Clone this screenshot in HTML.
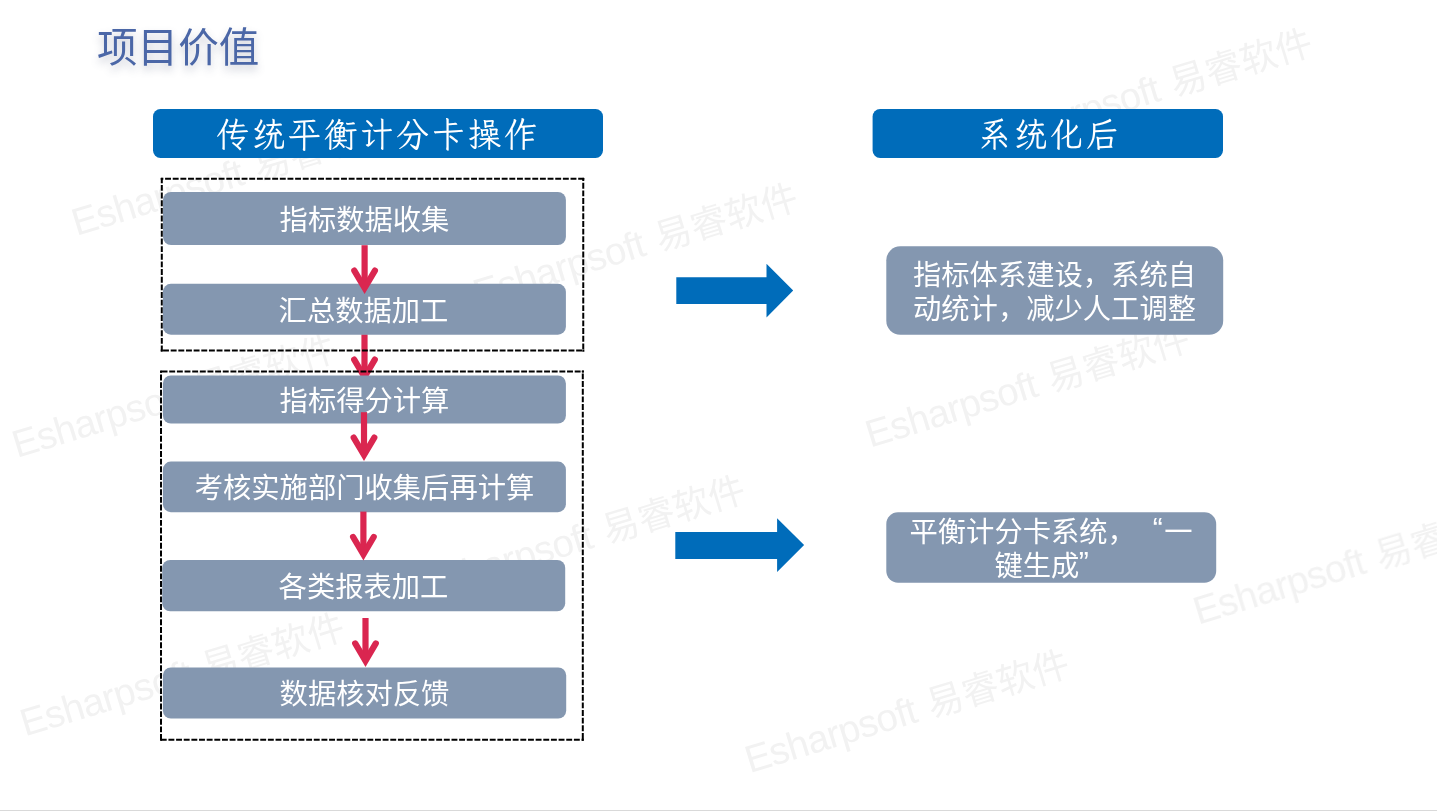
<!DOCTYPE html>
<html lang="zh-CN">
<head>
<meta charset="utf-8">
<title>项目价值</title>
<style>
*{box-sizing:border-box;margin:0;padding:0}
html,body{width:1437px;height:811px;overflow:hidden;background:#fff}
body{position:relative;font-family:"Liberation Sans","Noto Sans CJK SC",sans-serif}
svg{position:absolute;left:0;top:0;overflow:visible}
.wm{will-change:transform}
.wm text{font-family:"Liberation Sans","Noto Sans CJK SC",sans-serif;font-size:36.8px;fill:#f2f2f2}
.wm .la{font-size:38.5px;letter-spacing:-0.7px}
.title{position:absolute;left:96.5px;top:19px;font-size:40.6px;line-height:58px;color:#4b67a7;text-shadow:0 5px 9px rgba(80,90,120,.32);white-space:nowrap}
.hd{position:absolute;top:109px;height:49px;color:#fff;text-align:center;font-family:"Liberation Serif","LXGW WenKai TC","Noto Serif CJK SC",serif;font-size:33px;line-height:53px;letter-spacing:3px;white-space:nowrap;transform:scaleY(1.07);transform-origin:50% 27px}
.t{position:absolute;left:163px;width:403px;color:#fff;text-align:center;font-size:28.3px;line-height:40px;height:40px;white-space:nowrap}
.r{position:absolute;color:#fff;text-align:center;font-size:28.3px;line-height:34px;white-space:nowrap}
.title,.hd,.t,.r{will-change:transform}
.q{display:inline-block;width:28.3px}
.q{position:relative;top:-4px;font-size:30px;line-height:1px}
.ql{text-align:right;left:-1.5px}
.qr{text-align:left;left:-0.5px}
</style>
</head>
<body>
<!-- watermark layer -->
<svg class="wm" width="1437" height="811" viewBox="0 0 1437 811">
  <g id="wms">
  <text transform="translate(76.5 235.9) rotate(-17)"><tspan class="la">Esharpsoft</tspan><tspan dx="2.5"> 易睿软件</tspan></text>
  <text transform="translate(478.1 306.8) rotate(-17)"><tspan class="la">Esharpsoft</tspan><tspan dx="2.5"> 易睿软件</tspan></text>
  <text transform="translate(992.8 152.1) rotate(-17)"><tspan class="la">Esharpsoft</tspan><tspan dx="2.5"> 易睿软件</tspan></text>
  <text transform="translate(17 458) rotate(-17)"><tspan class="la">Esharpsoft</tspan><tspan dx="2.5"> 易睿软件</tspan></text>
  <text transform="translate(870.3 447.7) rotate(-17)"><tspan class="la">Esharpsoft</tspan><tspan dx="2.5"> 易睿软件</tspan></text>
  <text transform="translate(425.6 599.1) rotate(-17)"><tspan class="la">Esharpsoft</tspan><tspan dx="2.5"> 易睿软件</tspan></text>
  <text transform="translate(1198.3 624.8) rotate(-17)"><tspan class="la">Esharpsoft</tspan><tspan dx="2.5"> 易睿软件</tspan></text>
  <text transform="translate(25 736.6) rotate(-17)"><tspan class="la">Esharpsoft</tspan><tspan dx="2.5"> 易睿软件</tspan></text>
  <text transform="translate(749.7 773.3) rotate(-17)"><tspan class="la">Esharpsoft</tspan><tspan dx="2.5"> 易睿软件</tspan></text>
  </g>
</svg>

<div class="title">项目价值</div>

<!-- shapes -->
<svg width="1437" height="811" viewBox="0 0 1437 811">
  <!-- header bars -->
  <rect x="153" y="109" width="450" height="49" rx="7.5" fill="#006cba"/>
  <rect x="872.6" y="109" width="350.4" height="49" rx="7.5" fill="#006cba"/>
  <!-- arrow 2 (beneath dashed frames and box 3) -->
  <g transform="translate(364.5 359.6)" fill="none" stroke="#da2650" stroke-width="6.2"><path d="M0 -25.4V17" stroke-linecap="butt"/><path d="M-10.3 0L0 17.4L10.3 0" stroke-linecap="round" stroke-linejoin="miter" stroke-miterlimit="10"/></g>
  <!-- dashed frames -->
  <g fill="none" stroke="#000" stroke-width="2" stroke-dasharray="5.9 1.75">
    <path d="M160.85 178.84H584.20" stroke-dashoffset="3.41"/>
    <path d="M160.85 350.5H584.20" stroke-dashoffset="5.45"/>
    <path d="M161.8 177.89V351.45" stroke-dashoffset="0.58"/>
    <path d="M583.25 177.89V351.45" stroke-dashoffset="2.79"/>
    <rect x="160.85" y="177.89" width="1.9" height="1.9" fill="#000" stroke="none"/>
    <rect x="582.30" y="177.89" width="1.9" height="1.9" fill="#000" stroke="none"/>
    <rect x="160.85" y="349.55" width="1.9" height="1.9" fill="#000" stroke="none"/>
    <rect x="582.30" y="349.55" width="1.9" height="1.9" fill="#000" stroke="none"/>
    <path d="M160.05 371.6H583.75" stroke-dashoffset="6.1"/>
    <path d="M160.05 739.85H583.75" stroke-dashoffset="6.91"/>
    <path d="M161.0 370.65V740.80" stroke-dashoffset="3.77"/>
    <path d="M582.8 370.65V740.80" stroke-dashoffset="4.85"/>
    <rect x="160.05" y="370.65" width="1.9" height="1.9" fill="#000" stroke="none"/>
    <rect x="581.85" y="370.65" width="1.9" height="1.9" fill="#000" stroke="none"/>
    <rect x="160.05" y="738.90" width="1.9" height="1.9" fill="#000" stroke="none"/>
    <rect x="581.85" y="738.90" width="1.9" height="1.9" fill="#000" stroke="none"/>
  </g>
  <!-- grey boxes -->
  <g fill="#8497b0">
    <rect x="163" y="191.9" width="402.9" height="53.2" rx="8"/>
    <rect x="162.9" y="283.8" width="403" height="50.9" rx="8"/>
    <rect x="162.9" y="375.4" width="403" height="48.2" rx="8"/>
    <rect x="162.9" y="461.6" width="403" height="50.6" rx="8"/>
    <rect x="162.2" y="560" width="403" height="51.3" rx="8"/>
    <rect x="162.9" y="667.5" width="403.3" height="51.1" rx="8"/>
    <rect x="886.3" y="246.3" width="336.9" height="88.5" rx="14"/>
    <rect x="886.3" y="512.2" width="329.9" height="70.5" rx="11.7"/>
  </g>
  <!-- red arrows -->
  <g transform="translate(364.6 270.6)" fill="none" stroke="#da2650" stroke-width="6.2"><path d="M0 -25.4V17" stroke-linecap="butt"/><path d="M-10.3 0L0 17.4L10.3 0" stroke-linecap="round" stroke-linejoin="miter" stroke-miterlimit="10"/></g>
  <g transform="translate(364 437.6)" fill="none" stroke="#da2650" stroke-width="6.2"><path d="M0 -25.4V17" stroke-linecap="butt"/><path d="M-10.3 0L0 17.4L10.3 0" stroke-linecap="round" stroke-linejoin="miter" stroke-miterlimit="10"/></g>
  <g transform="translate(363.4 537)" fill="none" stroke="#da2650" stroke-width="6.2"><path d="M0 -25.4V17" stroke-linecap="butt"/><path d="M-10.3 0L0 17.4L10.3 0" stroke-linecap="round" stroke-linejoin="miter" stroke-miterlimit="10"/></g>
  <g transform="translate(365.5 643.4)" fill="none" stroke="#da2650" stroke-width="6.2"><path d="M0 -25.4V17" stroke-linecap="butt"/><path d="M-10.3 0L0 17.4L10.3 0" stroke-linecap="round" stroke-linejoin="miter" stroke-miterlimit="10"/></g>
  <!-- big blue arrows -->
  <path d="M676.3 277.2H766.5V263.8L793.2 290.6L766.5 317.4V303.9H676.3Z" fill="#006cba"/>
  <path d="M675.3 532H777.1V518.2L804.1 545.1L777.1 572V558.9H675.3Z" fill="#006cba"/>
  <!-- footer strip -->
  <rect x="0" y="810" width="1437" height="1" fill="#d9d9d9"/>
</svg>

<div class="hd" style="left:151px;width:450px;padding-left:4px">传统平衡计分卡操作</div>
<div class="hd" style="left:871.4px;width:350px;padding-left:8px">系统化后</div>

<div class="t" style="top:200px">指标数据收集</div>
<div class="t" style="top:291px;left:162.4px">汇总数据加工</div>
<div class="t" style="top:381px">指标得分计算</div>
<div class="t" style="top:468px">考核实施部门收集后再计算</div>
<div class="t" style="top:567px;left:162px">各类报表加工</div>
<div class="t" style="top:674px">数据核对反馈</div>

<div class="r" style="left:886px;top:258px;width:337px">指标体系建设，系统自<br>动统计，减少人工调整</div>
<div class="r" style="left:886px;top:515px;width:330px">平衡计分卡系统，<span class="q ql">“</span>一<br>键生成<span class="q qr">”</span></div>

</body>
</html>
